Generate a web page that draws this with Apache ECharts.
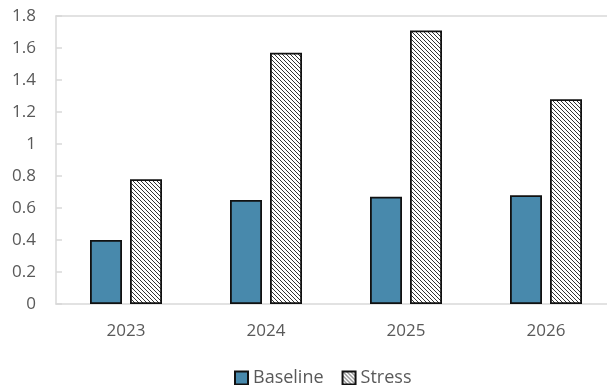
<!DOCTYPE html>
<html><head><meta charset="utf-8">
<script src="https://cdn.jsdelivr.net/npm/echarts@6/dist/echarts.min.js"></script>
<style>html,body{margin:0;padding:0;background:#fff}#c{width:607px;height:385px}</style>
</head><body><div id="c"></div>
<script>
var categories = ['2023', '2024', '2025', '2026'];
var baseline = [0.40, 0.65, 0.67, 0.68];
var stress = [0.78, 1.57, 1.71, 1.28];
var seriesNames = ['Baseline', 'Stress'];

function hatch() {
  var c = document.createElement('canvas');
  c.width = 4; c.height = 4;
  var g = c.getContext('2d');
  g.fillStyle = '#fff'; g.fillRect(0, 0, 4, 4);
  g.strokeStyle = '#333'; g.lineWidth = 1;
  g.beginPath();
  g.moveTo(-1, -1); g.lineTo(5, 5);
  g.moveTo(-1, 3); g.lineTo(1, 5);
  g.moveTo(3, -1); g.lineTo(5, 1);
  g.stroke();
  return c;
}
var font = 'Open Sans, Noto Sans, sans-serif';
var chart = echarts.init(document.getElementById('c'), null, {renderer: 'canvas'});
chart.setOption({
  animation: false,
  grid: {left: 56, top: 16, width: 560, height: 288, outerBoundsMode: 'none', containLabel: false},
  legend: {
    left: 229, top: 364, itemWidth: 13, itemHeight: 13, itemGap: 18, icon: 'rect',
    textStyle: {fontFamily: font, fontSize: 18, color: '#595959', padding: [0, 0, 0, 0]},
    data: seriesNames
  },
  xAxis: [{
    type: 'category', data: categories,
    axisLine: {lineStyle: {color: '#d9d9d9', width: 1.5}},
    axisTick: {inside: true, length: 5, lineStyle: {color: '#d9d9d9', width: 1.5}},
    axisLabel: {fontFamily: font, fontSize: 17, color: '#595959', margin: 19}
  }, {
    type: 'category', data: categories, position: 'top',
    axisLine: {show: true, lineStyle: {color: '#d9d9d9', width: 1.5}},
    axisTick: {show: false}, axisLabel: {show: false}
  }],
  yAxis: {
    type: 'value', min: 0, max: 1.8, interval: 0.2,
    axisLine: {show: true, lineStyle: {color: '#d9d9d9', width: 1.5}},
    axisTick: {show: true, inside: true, length: 6, lineStyle: {color: '#d9d9d9', width: 1.5}},
    splitLine: {show: false},
    axisLabel: {fontFamily: font, fontSize: 17, color: '#595959', margin: 20,
      formatter: function (v) { return String(Math.round(v * 10) / 10); }}
  },
  series: [
    {name: seriesNames[0], type: 'bar', data: baseline, barWidth: 32, barGap: '25%',
     itemStyle: {color: '#4889ac', borderColor: '#111', borderWidth: 1.8}},
    {name: seriesNames[1], type: 'bar', data: stress, barWidth: 32,
     itemStyle: {color: {image: hatch(), repeat: 'repeat'}, borderColor: '#111', borderWidth: 1.8}}
  ]
});
</script></body></html>
